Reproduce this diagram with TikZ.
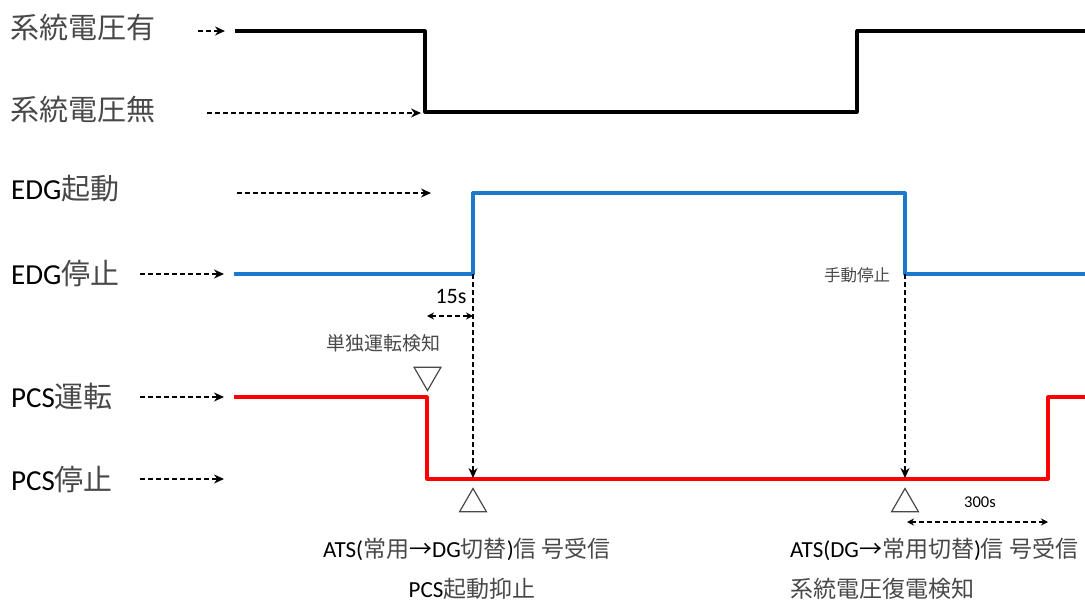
\documentclass[tikz,border=0pt]{standalone}
\usepackage{fontspec}
\setmainfont{Carlito}
\newfontfamily\jp{Noto Sans CJK JP}
\usetikzlibrary{arrows.meta,shapes.geometric}
\definecolor{jpgray}{RGB}{72,72,72}
\definecolor{edgblue}{RGB}{28,120,204}
\definecolor{pcsred}{RGB}{255,0,0}
\begin{document}
\begin{tikzpicture}[x=1pt,y=-1pt,
  lbl/.style={anchor=west,inner sep=0pt,font=\fontsize{29}{34}\selectfont,text=black},
  botlbl/.style={inner sep=0pt,font=\fontsize{23}{28}\selectfont,text=black},
  smalllbl/.style={inner sep=0pt,text=jpgray},
  wave/.style={line width=3.2pt,line join=round},
  darrow/.style={line width=1.4pt,dash pattern=on 4.5pt off 3.5pt,-{Stealth[length=10pt,width=9pt]}},
  dbl/.style={line width=1.3pt,dash pattern=on 4.5pt off 3.5pt,{Stealth[length=7pt,width=7pt]}-{Stealth[length=7pt,width=7pt]}},
  tri/.style={regular polygon,regular polygon sides=3,draw=jpgray,line width=1.2pt,minimum size=31pt,inner sep=0pt,outer sep=0pt}
]
\useasboundingbox (0,0) rectangle (1085,605);

% labels
\node[lbl] (l1) at (10,28) {\jp\color{jpgray}系統電圧有};
\node[lbl] (l2) at (10,110) {\jp\color{jpgray}系統電圧無};
\node[lbl] (l3) at (11,189) {EDG{\jp\color{jpgray}起動}};
\node[lbl] (l4) at (11,274) {EDG{\jp\color{jpgray}停止}};
\node[lbl] (l5) at (11,396) {PCS{\jp\color{jpgray}運転}};
\node[lbl] (l6) at (11,480) {PCS{\jp\color{jpgray}停止}};

% coordinates
\coordinate (a1s) at (198,31);  \coordinate (a1e) at (225,31);
\coordinate (a2s) at (207,113); \coordinate (a2e) at (421,113);
\coordinate (a3s) at (237,193); \coordinate (a3e) at (431,193);
\coordinate (a4s) at (140,274); \coordinate (a4e) at (224,274);
\coordinate (a5s) at (140,397); \coordinate (a5e) at (224,397);
\coordinate (a6s) at (140,479); \coordinate (a6e) at (224,479);

% waveforms
\draw[wave,black] (235,31) -- (425,31) -- (425,112) -- (857,112) -- (857,31) -- (1085,31);
\coordinate (b1) at (473,274);
\coordinate (b2) at (905,274);
\draw[wave,edgblue] (234,274) -- (b1) -- (473,193) -- (905,193) -- (b2) -- (1085,274);
\coordinate (r1) at (473,478);
\coordinate (r2) at (905,478);
\coordinate (r3) at (1048,479);
\draw[wave,pcsred] (234,397) -- (427,397) -- (427,479) -- (r3) -- (1048,397) -- (1085,397);

% dashed arrows from labels
\draw[darrow] (a1s) -- (a1e);
\draw[darrow] (a2s) -- (a2e);
\draw[darrow] (a3s) -- (a3e);
\draw[darrow] (a4s) -- (a4e);
\draw[darrow] (a5s) -- (a5e);
\draw[darrow] (a6s) -- (a6e);

% vertical dashed arrows
\draw[darrow] (b1) -- (r1);
\draw[darrow] (b2) -- (r2);

% 15s
\coordinate (d1s) at (427,316); \coordinate (d1e) at (473,316);
\draw[dbl] (d1s) -- (d1e);
\node[inner sep=0pt,font=\fontsize{22}{26}\selectfont] (t15) at (451,296) {15s};

% 300s
\coordinate (d2s) at (907,522); \coordinate (d2e) at (1048,522);
\draw[dbl] (d2s) -- (d2e);
\node[inner sep=0pt,font=\fontsize{16.5}{20}\selectfont] (t300) at (980,502) {300s};

% small labels
\node[smalllbl,font=\jp\fontsize{19}{22}\selectfont] (tan) at (383,343) {単独運転検知};
\node[smalllbl,font=\jp\fontsize{16.5}{20}\selectfont] (shu) at (857,275) {手動停止};

% triangles
\node[tri,shape border rotate=180] (tdown) at (427.5,375) {};
\node[tri] (tup1) at (473,504) {};
\node[tri] (tup2) at (905,504) {};

% bottom labels
\node[botlbl] (bl1) at (467,549) {ATS({\jp\color{jpgray}常用}{\jp →}DG{\jp\color{jpgray}切替})\jp\color{jpgray}信 号受信};
\node[botlbl] (bl2) at (472,589) {PCS{\jp\color{jpgray}起動抑止}};
\node[botlbl,anchor=west] (br1) at (790,549) {ATS(DG{\jp →}{\jp\color{jpgray}常用切替})\jp\color{jpgray}信 号受信};
\node[botlbl,anchor=west] (br2) at (790,589) {\jp\color{jpgray}系統電圧復電検知};
\end{tikzpicture}
\end{document}
